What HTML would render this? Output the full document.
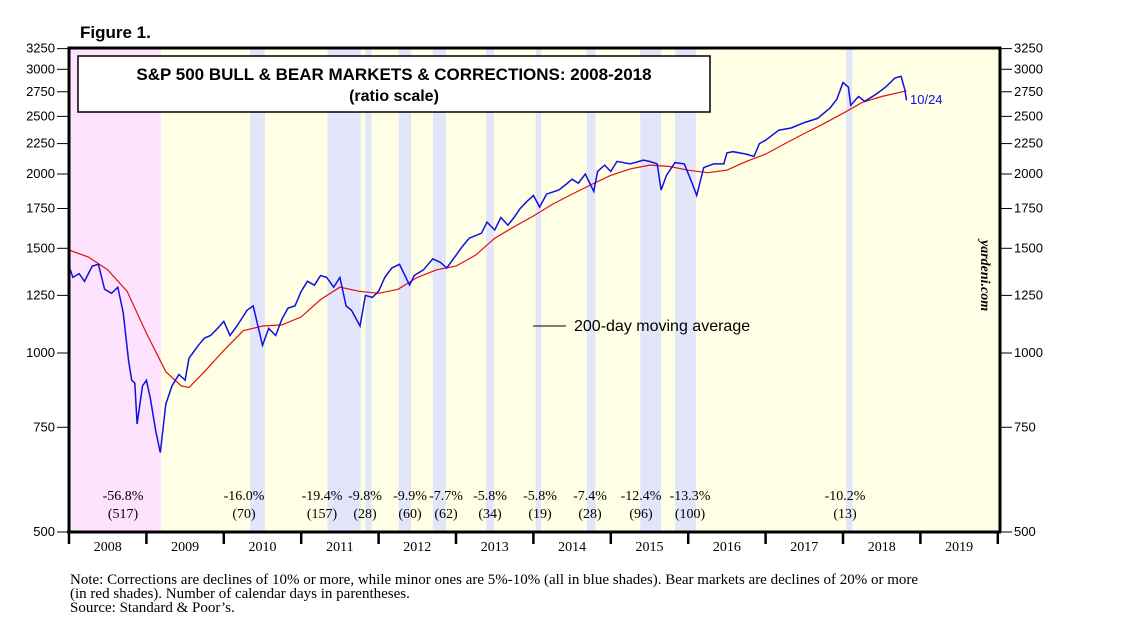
<!DOCTYPE html>
<html><head><meta charset="utf-8"><style>
body{margin:0;background:#fff;width:1138px;height:637px;overflow:hidden}
svg{display:block}
.t{font-family:"Liberation Sans",sans-serif}
.s{font-family:"Liberation Serif",serif}
</style></head><body>
<svg id="c" width="1138" height="637"></svg>
<script>
const priceDates=[2008.0,2008.05,2008.13,2008.2,2008.3,2008.38,2008.46,2008.55,2008.63,2008.7,2008.77,2008.81,2008.85,2008.88,2008.95,2009.0,2009.05,2009.12,2009.18,2009.25,2009.33,2009.42,2009.5,2009.55,2009.6,2009.67,2009.75,2009.83,2009.92,2010.0,2010.08,2010.17,2010.3,2010.38,2010.5,2010.58,2010.67,2010.75,2010.83,2010.92,2011.0,2011.08,2011.17,2011.25,2011.33,2011.42,2011.5,2011.58,2011.65,2011.76,2011.83,2011.92,2012.0,2012.08,2012.17,2012.27,2012.4,2012.46,2012.58,2012.7,2012.8,2012.88,2013.0,2013.08,2013.17,2013.33,2013.4,2013.5,2013.58,2013.67,2013.75,2013.83,2013.92,2014.0,2014.08,2014.17,2014.33,2014.42,2014.5,2014.58,2014.67,2014.78,2014.83,2014.92,2015.0,2015.08,2015.25,2015.42,2015.5,2015.6,2015.65,2015.72,2015.83,2015.95,2016.05,2016.11,2016.2,2016.33,2016.46,2016.5,2016.58,2016.75,2016.85,2016.92,2017.0,2017.17,2017.33,2017.5,2017.67,2017.83,2017.92,2018.0,2018.07,2018.1,2018.2,2018.28,2018.42,2018.55,2018.67,2018.75,2018.8,2018.82];
const priceVals=[1400,1340,1360,1320,1400,1410,1280,1260,1290,1170,970,900,890,760,880,900,840,740,680,820,880,920,900,980,1000,1030,1060,1070,1100,1130,1070,1110,1180,1200,1030,1100,1070,1140,1190,1200,1270,1320,1300,1350,1340,1290,1340,1200,1180,1110,1250,1240,1270,1340,1390,1410,1300,1350,1380,1440,1420,1390,1460,1510,1560,1590,1660,1610,1690,1640,1690,1750,1800,1840,1760,1850,1880,1920,1960,1930,2000,1870,2020,2070,2020,2100,2080,2110,2100,2080,1880,1990,2090,2080,1930,1840,2050,2080,2080,2170,2180,2160,2140,2250,2280,2370,2390,2440,2480,2580,2670,2850,2800,2610,2700,2650,2720,2800,2900,2920,2770,2660];
const maDates=[2008.0,2008.25,2008.5,2008.75,2009.0,2009.25,2009.45,2009.55,2009.75,2010.0,2010.25,2010.5,2010.75,2011.0,2011.25,2011.5,2011.75,2012.0,2012.25,2012.5,2012.75,2013.0,2013.25,2013.5,2013.75,2014.0,2014.25,2014.5,2014.75,2015.0,2015.25,2015.5,2015.75,2016.0,2016.25,2016.5,2016.75,2017.0,2017.25,2017.5,2017.75,2018.0,2018.25,2018.5,2018.82];
const maVals=[1490,1450,1380,1270,1080,930,880,875,930,1010,1090,1110,1115,1150,1230,1290,1270,1260,1280,1340,1380,1400,1460,1560,1630,1700,1780,1850,1920,1990,2040,2070,2060,2030,2010,2030,2100,2160,2250,2340,2430,2530,2640,2700,2760];
const yTicks=[500,750,1000,1250,1500,1750,2000,2250,2500,2750,3000,3250];
const years=[2008,2009,2010,2011,2012,2013,2014,2015,2016,2017,2018,2019];
const bandStart=[2010.34,2011.34,2011.83,2012.26,2012.70,2013.39,2014.03,2014.69,2015.38,2015.83,2018.04];
const bandEnd=[2010.53,2011.77,2011.91,2012.42,2012.87,2013.49,2014.10,2014.80,2015.65,2016.10,2018.12];
const corrPct=["-56.8%","-16.0%","-19.4%","-9.8%","-9.9%","-7.7%","-5.8%","-5.8%","-7.4%","-12.4%","-13.3%","-10.2%"];
const corrDays=["(517)","(70)","(157)","(28)","(60)","(62)","(34)","(19)","(28)","(96)","(100)","(13)"];
const corrX=[123,244,322,365,410,446,490,540,590,641,690,845];

const L=69,R=1000,T=48,B=532,YW=77.4;
const x=t=>L+(t-2008)*YW;
const y=v=>B-Math.log2(v/500)*179;
const svg=document.getElementById('c');
const NS='http://www.w3.org/2000/svg';
function mk(tag,a,txt){const e=document.createElementNS(NS,tag);for(const k in a)e.setAttribute(k,a[k]);if(txt!==undefined)e.textContent=txt;svg.appendChild(e);return e;}
let e;
e=mk('rect',{x:L,y:T,width:R-L,height:B-T,fill:'#ffffe6'});


e=mk('rect',{x:L,y:T,width:x(2009.19)-L,height:B-T,fill:'#fde3fd'});


bandStart.forEach((s,i)=>{
 const r=mk('rect',{x:x(s),y:T,width:x(bandEnd[i])-x(s),height:B-T,fill:'#e3e6fb'});
 
 
});
e=mk('rect',{x:78,y:56,width:632,height:56,fill:'#fff',stroke:'#000','stroke-width':1.5});


e=mk('text',{x:394,y:80,'text-anchor':'middle','font-size':17,'font-weight':'bold',class:'t'},'S&P 500 BULL & BEAR MARKETS & CORRECTIONS: 2008-2018');


e=mk('text',{x:394,y:101,'text-anchor':'middle','font-size':16,'font-weight':'bold',class:'t'},'(ratio scale)');


e=mk('text',{x:80,y:38,'font-size':17,'font-weight':'bold',class:'t'},'Figure 1.');


const mpath=(d,v)=>d.map((t,i)=>(i?'L':'M')+x(t).toFixed(1)+','+y(v[i]).toFixed(1)).join('');
e=mk('path',{d:mpath(maDates,maVals),fill:'none',stroke:'#e01010','stroke-width':1.2});


e=mk('path',{d:mpath(priceDates,priceVals),fill:'none',stroke:'#1010e0','stroke-width':1.5});


e=mk('text',{x:910,y:104,'font-size':13,fill:'#1010e0',class:'t'},'10/24');


e=mk('line',{x1:533,x2:566,y1:326,y2:326,stroke:'#000','stroke-width':1});


e=mk('text',{x:574,y:331,'font-size':16,class:'t'},'200-day moving average');


e=mk('text',{x:0,y:0,'font-size':14,'font-style':'italic','font-weight':'bold',class:'s',transform:'translate(981,240) rotate(90)'},'yardeni.com');


corrX.forEach((cx,i)=>{
 const a=mk('text',{x:cx,y:500,'text-anchor':'middle','font-size':14,class:'s'},corrPct[i]);
 
 
 const b=mk('text',{x:cx,y:518,'text-anchor':'middle','font-size':14,class:'s'},corrDays[i]);
 
 
});
e=mk('path',{d:`M${L},${B}L${L},${T}L${R},${T}L${R},${B}`,fill:'none',stroke:'#000','stroke-width':3});


e=mk('line',{x1:L-2,x2:R+1,y1:B,y2:B,stroke:'#000','stroke-width':3});


yTicks.forEach(v=>{
 const yy=y(v);
 let a=mk('line',{x1:L-12,x2:L,y1:yy,y2:yy,stroke:'#000','stroke-width':1});
 
 
 a=mk('line',{x1:R,x2:R+12,y1:yy,y2:yy,stroke:'#000','stroke-width':1});
 
 
 a=mk('text',{x:L-14,y:yy+4,'text-anchor':'end','font-size':13,class:'t'},String(v));
 
 
 a=mk('text',{x:R+14,y:yy+4,'font-size':13,class:'t'},String(v));
 
 
});
years.forEach(yr=>{
 let a=mk('line',{x1:x(yr),x2:x(yr),y1:B,y2:B+12,stroke:'#000','stroke-width':2.5});
 
 
 a=mk('text',{x:x(yr+0.5),y:551,'text-anchor':'middle','font-size':14,class:'s'},String(yr));
 
 
});
e=mk('line',{x1:x(2020),x2:x(2020),y1:B,y2:B+12,stroke:'#000','stroke-width':2.5});


const notes=['Note: Corrections are declines of 10% or more, while minor ones are 5%-10% (all in blue shades).  Bear markets are declines of 20% or more','(in red shades). Number of calendar days in parentheses.','Source: Standard & Poor\u2019s.'];
notes.forEach((n,i)=>{
 const a=mk('text',{x:70,y:584+i*14,'font-size':15,class:'s'},n);
 
 
});
</script>
</body></html>
